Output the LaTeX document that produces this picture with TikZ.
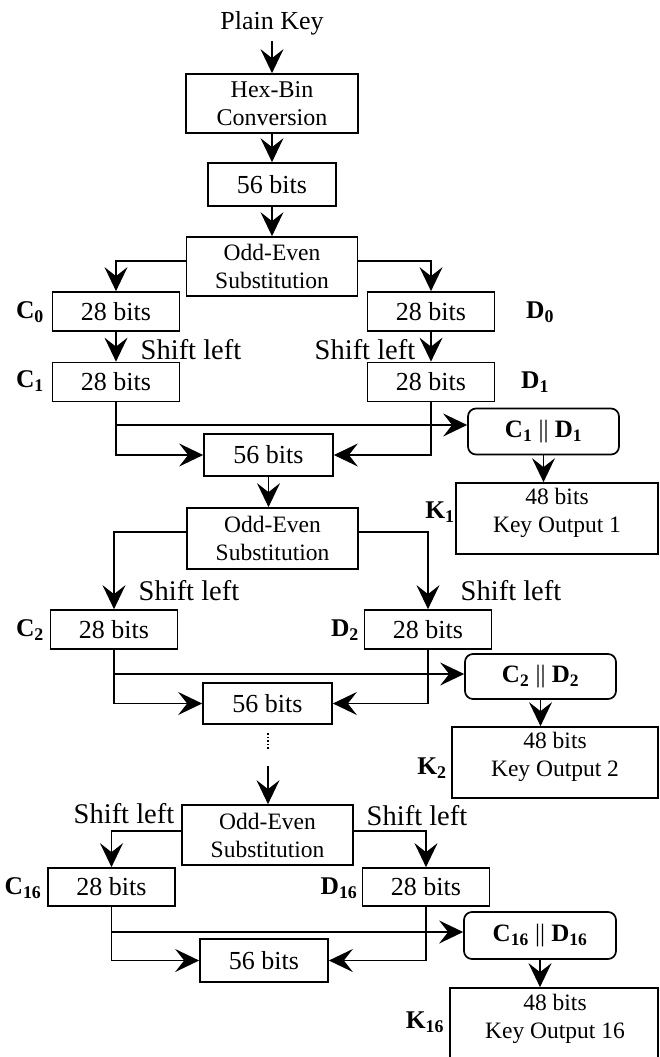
\documentclass[tikz,border=0pt]{standalone}
\usepackage{fontspec}
\setmainfont{Liberation Serif}
\usetikzlibrary{arrows.meta}
\newcommand\fsz[1]{\fontsize{#1pt}{28pt}\selectfont}
\begin{document}
\begin{tikzpicture}[x=1pt,y=-1pt,
  box/.style={draw, line width=1.7pt, inner sep=0pt, align=center},
  bitbox/.style={box, minimum width=127pt, minimum height=39pt, font=\fsz{26}},
  widebox/.style={box, minimum width=129pt, minimum height=42pt, font=\fsz{26}},
  subbox/.style={box, minimum width=171pt, minimum height=60pt, font=\fsz{23.5}},
  catbox/.style={box, rounded corners=8pt, minimum width=151pt, minimum height=46pt, font=\bfseries\fsz{25}},
  keybox/.style={box, minimum height=71pt},
  keytext/.style={inner sep=0pt, align=center, font=\fsz{23.5}},
  lbl/.style={inner sep=0pt, font=\bfseries\fsz{25.5}},
  shiftlbl/.style={inner sep=0pt, font=\fsz{28.5}},
  wire/.style={line width=1.5pt},
  arr/.style={wire, -{Stealth[length=24pt,width=23pt,inset=9pt]}},
  dotline/.style={line width=1.6pt, dash pattern=on 1.6pt off 2pt}
]
\useasboundingbox (0,0) rectangle (660,1057);

% ---- input stage ----
\node[inner sep=0pt, font=\fsz{26}] (pk) at (272,23) {Plain Key};
\node[box, minimum width=172pt, minimum height=59pt, font=\fsz{24}] (hexbin) at (272,103.5) {Hex-Bin\\Conversion};
\node[box, minimum width=128pt, minimum height=43pt, font=\fsz{26}] (b56a) at (272,184.5) {56 bits};
\node[subbox, minimum height=59pt] (oe1) at (272,266.5) {Odd-Even\\Substitution};

% ---- round 1 ----
\node[bitbox] (c0) at (116,311.5) {28 bits};
\node[bitbox] (d0) at (431,311.5) {28 bits};
\node[bitbox] (c1) at (116,382) {28 bits};
\node[bitbox] (d1) at (431,382) {28 bits};
\node[catbox] (cd1) at (543.5,431.5) {C\textsubscript{1} {\mdseries||} D\textsubscript{1}};
\node[widebox] (b56b) at (268.5,455) {56 bits};
\node[keybox, minimum width=202pt] (k1) at (557,518.5) {};
\node[keytext] (k1t) at (557,512.5) {48 bits\\Key Output 1};

\node[lbl] (lc0) at (30,312) {C\textsubscript{0}};
\node[lbl] (ld0) at (540,312) {D\textsubscript{0}};
\node[lbl] (lc1) at (30,381) {C\textsubscript{1}};
\node[lbl] (ld1) at (535,382) {D\textsubscript{1}};
\node[lbl] (lk1) at (440,512) {K\textsubscript{1}};
\node[shiftlbl] (s1l) at (191,350) {Shift left};
\node[shiftlbl] (s1r) at (365,350) {Shift left};

% ---- round 2 ----
\node[subbox, minimum height=61pt] (oe2) at (272.5,538.5) {Odd-Even\\Substitution};
\node[bitbox] (c2) at (114,629.5) {28 bits};
\node[bitbox] (d2) at (428,629.5) {28 bits};
\node[catbox, minimum height=45pt] (cd2) at (540.5,676.5) {C\textsubscript{2} {\mdseries||} D\textsubscript{2}};
\node[widebox, minimum height=41pt] (b56c) at (267.5,703.5) {56 bits};
\node[keybox, minimum width=206pt] (k2) at (555,762.5) {};
\node[keytext] (k2t) at (555,757) {48 bits\\Key Output 2};

\node[lbl] (lc2) at (30,630) {C\textsubscript{2}};
\node[lbl] (ld2) at (345,630) {D\textsubscript{2}};
\node[lbl] (lk2) at (432,768) {K\textsubscript{2}};
\node[shiftlbl] (s2l) at (189,591) {Shift left};
\node[shiftlbl] (s2r) at (511,591) {Shift left};

% ---- round 16 ----
\node[subbox] (oe3) at (267.5,835) {Odd-Even\\Substitution};
\node[bitbox, minimum height=38pt] (c16) at (111.5,887) {28 bits};
\node[bitbox, minimum height=38pt] (d16) at (426,887) {28 bits};
\node[catbox, minimum width=152pt, minimum height=47pt] (cd16) at (540,935.5) {C\textsubscript{16} {\mdseries||} D\textsubscript{16}};
\node[widebox, minimum width=128pt, minimum height=43pt] (b56d) at (264,960.5) {56 bits};
\node[keybox, minimum width=208pt, minimum height=82pt] (k16) at (554,1029) {};
\node[keytext] (k16t) at (555,1019) {48 bits\\Key Output 16};

\node[lbl] (lc16) at (23,888) {C\textsubscript{16}};
\node[lbl] (ld16) at (339,888) {D\textsubscript{16}};
\node[lbl] (lk16) at (425,1022) {K\textsubscript{16}};
\node[shiftlbl] (s3l) at (124,814) {Shift left};
\node[shiftlbl] (s3r) at (417,816) {Shift left};

% ---- levels of the branch lines ----
\coordinate (br1) at (0,261);
\coordinate (br2) at (0,532);
\coordinate (br3) at (0,831);
\coordinate (j1) at (0,425);
\coordinate (j2) at (0,674);
\coordinate (j3) at (0,932);
\coordinate (dtop) at (268,733);
\coordinate (dbot) at (268,750);
\coordinate (astart) at (268,766);

% ---- connectors: input stage ----
\draw[arr, shorten <=6pt] (pk) -- (hexbin);
\draw[arr] (hexbin) -- (b56a);
\draw[arr] (b56a) -- (oe1);

% ---- connectors: round 1 ----
\draw[arr] (oe1.west |- br1) -| (c0.north);
\draw[arr] (oe1.east |- br1) -| (d0.north);
\draw[arr] (c0) -- (c1);
\draw[arr] (d0) -- (d1);
\draw[arr] (c1.south) |- (b56b.west);
\draw[arr] (d1.south) |- (b56b.east);
\draw[arr] (c1.south |- j1) -- (cd1.west |- j1);
\draw[arr] (cd1.south) -- (cd1.south |- k1.north);
\draw[arr] (b56b.south) -- (b56b.south |- oe2.north);

% ---- connectors: round 2 ----
\draw[arr] (oe2.west |- br2) -| (c2.north);
\draw[arr] (oe2.east |- br2) -| (d2.north);
\draw[arr] (c2.south) |- (b56c.west);
\draw[arr] (d2.south) |- (b56c.east);
\draw[arr] (c2.south |- j2) -- (cd2.west |- j2);
\draw[arr] (cd2.south) -- (cd2.south |- k2.north);
\draw[dotline] (dtop) -- (dbot);
\draw[arr] (astart) -- (astart |- oe3.north);

% ---- connectors: round 16 ----
\draw[arr] (oe3.west |- br3) -| (c16.north);
\draw[arr] (oe3.east |- br3) -| (d16.north);
\draw[arr] (c16.south) |- (b56d.west);
\draw[arr] (d16.south) |- (b56d.east);
\draw[arr] (c16.south |- j3) -- (cd16.west |- j3);
\draw[arr] (cd16.south) -- (cd16.south |- k16.north);
\end{tikzpicture}
\end{document}
